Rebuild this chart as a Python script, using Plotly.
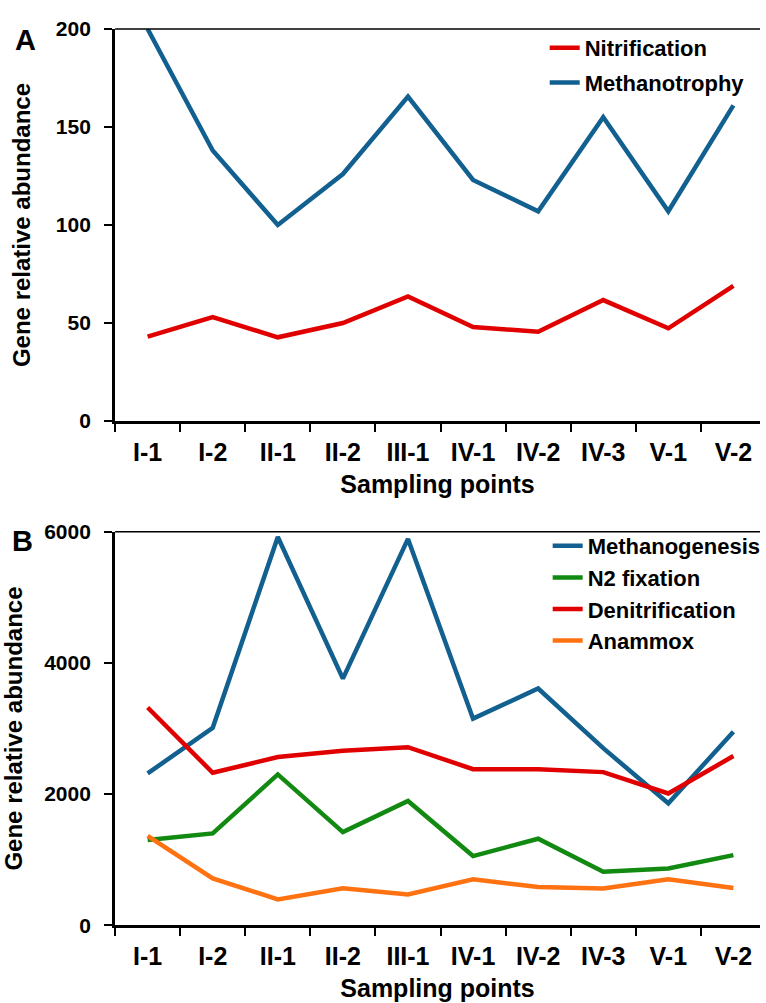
import plotly.graph_objects as go

categories = ["I-1", "I-2", "II-1", "II-2", "III-1", "IV-1", "IV-2", "IV-3", "V-1", "V-2"]

nitrification = [43, 53, 42.7, 50, 63.5, 48, 45.5, 61.7, 47.3, 69]
methanotrophy = [200, 138, 100, 126, 165.5, 123, 107, 155, 107, 161]

methanogenesis = [2315, 3010, 5920, 3760, 5890, 3150, 3610, 2700, 1860, 2950]
n2_fixation = [1300, 1400, 2300, 1420, 1895, 1055, 1320, 815, 865, 1070]
denitrification = [3320, 2325, 2565, 2660, 2715, 2380, 2380, 2335, 2010, 2580]
anammox = [1365, 715, 395, 565, 470, 700, 585, 560, 700, 570]

BLUE = "#12608f"
RED = "#e00000"
GREEN = "#128a12"
ORANGE = "#ff7212"

FONT = "Arial, Liberation Sans, sans-serif"
W, H = 766, 1003

fig = go.Figure()

def add(y, name, color, xa, ya, legend):
    fig.add_trace(go.Scatter(x=categories, y=y, name=name, mode="lines",
                             line=dict(color=color, width=4.5),
                             xaxis=xa, yaxis=ya, legend=legend, legendgroup=name))

add(nitrification, "Nitrification", RED, "x", "y", "legend")
add(methanotrophy, "Methanotrophy", BLUE, "x", "y", "legend")
add(methanogenesis, "Methanogenesis", BLUE, "x2", "y2", "legend2")
add(n2_fixation, "N2 fixation", GREEN, "x2", "y2", "legend2")
add(denitrification, "Denitrification", RED, "x2", "y2", "legend2")
add(anammox, "Anammox", ORANGE, "x2", "y2", "legend2")

left_px = 116
xdom = [left_px / W, 1.0]
xrng = [-0.5, -0.5 + (W - left_px) / 65.6]

def py(p):
    return 1 - p / H

ydomA = [py(421), py(29)]
ydomB = [py(925.3), py(531.7)]

xcommon = dict(type="category", range=xrng, domain=xdom, showline=True, linewidth=3,
               linecolor="black", ticks="outside", ticklen=8, tickwidth=2,
               tickcolor="black", tickson="boundaries", showgrid=False, zeroline=False,
               automargin=False, ticklabelstandoff=7,
               tickfont=dict(family=FONT, size=25, color="black", weight="bold"),
               title=dict(text="Sampling points", standoff=11,
                          font=dict(family=FONT, size=25, color="black", weight="bold")))
ycommon = dict(showline=True, linewidth=3, linecolor="black", ticks="outside",
               ticklen=8, tickwidth=2, tickcolor="black", showgrid=False, zeroline=False,
               automargin=False, ticklabelstandoff=9,
               tickfont=dict(family=FONT, size=21, color="black", weight="bold"),
               title=dict(text="Gene relative abundance", standoff=19,
                          font=dict(family=FONT, size=24, color="black", weight="bold")))

fig.update_layout(
    width=W, height=H,
    margin=dict(l=0, r=0, t=0, b=0),
    paper_bgcolor="white", plot_bgcolor="white",
    xaxis=dict(anchor="y", **xcommon),
    yaxis=dict(anchor="x", domain=ydomA, range=[0, 200], tickvals=[0, 50, 100, 150, 200], **ycommon),
    xaxis2=dict(anchor="y2", **xcommon),
    yaxis2=dict(anchor="x2", domain=ydomB, range=[0, 6000], tickvals=[0, 2000, 4000, 6000], **ycommon),
    legend=dict(x=549 / W, y=py(27), xanchor="left", yanchor="top", bgcolor="rgba(0,0,0,0)",
                tracegroupgap=3,
                font=dict(family=FONT, size=22, color="black", weight="bold")),
    legend2=dict(x=552 / W, y=py(525), xanchor="left", yanchor="top", bgcolor="rgba(0,0,0,0)",
                 tracegroupgap=0,
                 font=dict(family=FONT, size=22, color="black", weight="bold")),
    showlegend=True,
    shapes=[
        dict(type="line", xref="x domain", yref="y domain", x0=0, x1=1, y0=1, y1=1,
             line=dict(color="black", width=1.5)),
        dict(type="line", xref="x2 domain", yref="y2 domain", x0=0, x1=1, y0=1, y1=1,
             line=dict(color="black", width=1.5)),
    ],
    annotations=[
        dict(text="A", x=26 / W, y=py(40), xref="paper", yref="paper", showarrow=False,
             xanchor="center", yanchor="middle",
             font=dict(family=FONT, size=29, color="black", weight="bold")),
        dict(text="B", x=23 / W, y=py(541), xref="paper", yref="paper", showarrow=False,
             xanchor="center", yanchor="middle",
             font=dict(family=FONT, size=29, color="black", weight="bold")),
    ],
)

fig.write_html("out.html", config={"displayModeBar": False},
               post_script="document.body.style.margin='0';document.body.style.overflow='hidden';")
